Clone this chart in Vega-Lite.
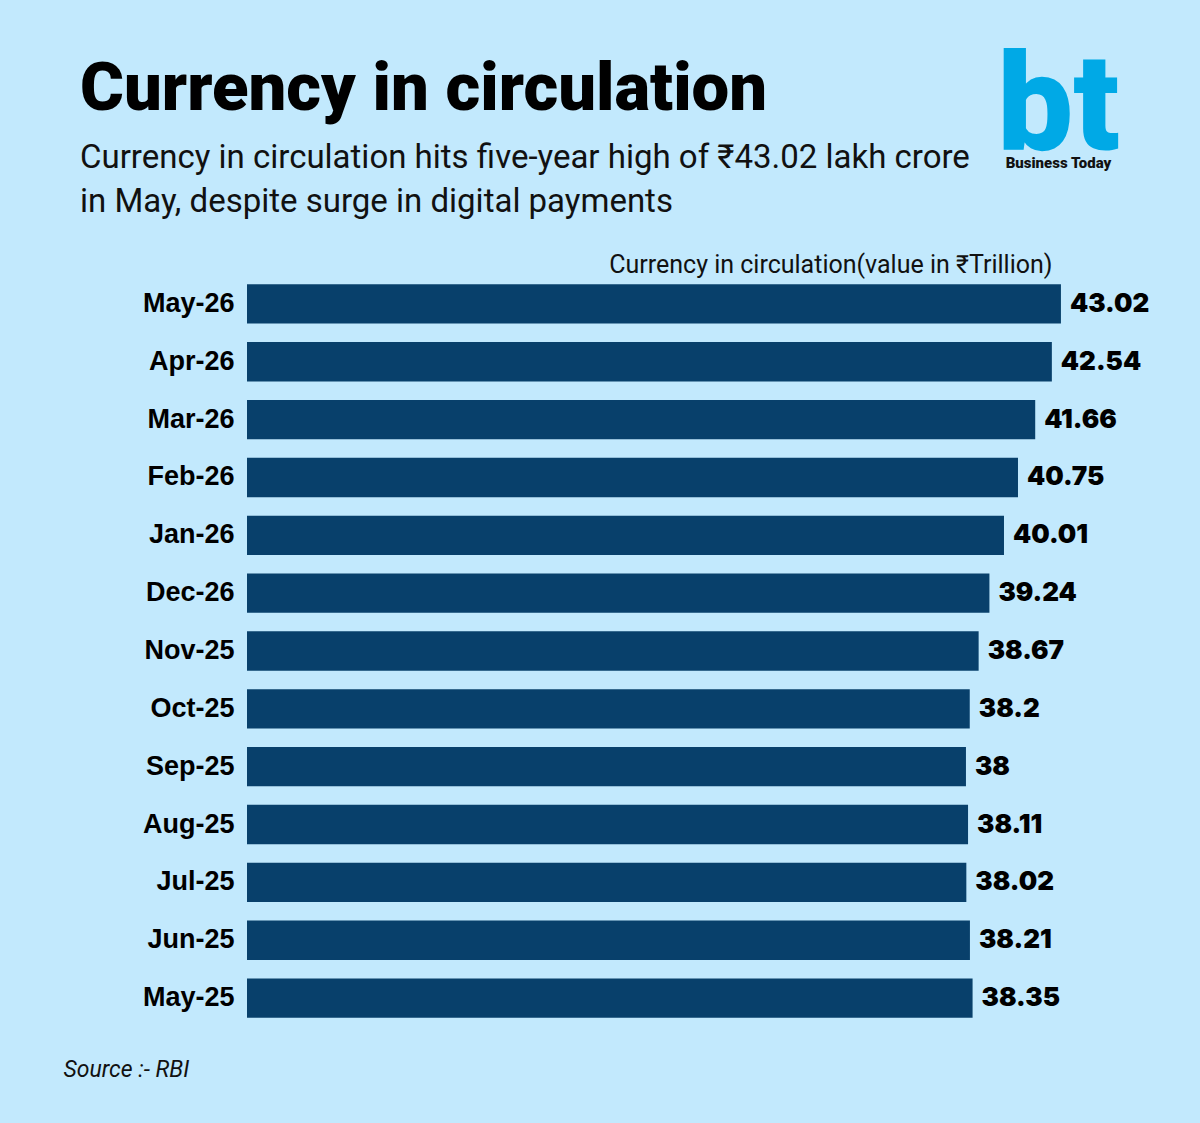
{
  "$schema": "https://vega.github.io/schema/vega-lite/v6.json",
  "width": 946,
  "height": 752,
  "autosize": {"type": "none"},
  "padding": {"left": 247, "top": 275, "right": 7, "bottom": 96},
  "background": "#c2e9fd",
  "title": {
    "text": "Currency in circulation",
    "subtitle": ["Currency in circulation hits five-year high of ₹43.02 lakh crore", "in May, despite surge in digital payments"],
    "anchor": "start",
    "frame": "group",
    "dx": -167,
    "offset": -180,
    "font": "Roboto",
    "fontSize": 67,
    "fontWeight": 900,
    "color": "#000000",
    "subtitleFont": "Roboto",
    "subtitleFontSize": 33,
    "subtitleColor": "#111111",
    "subtitleLineHeight": 44,
    "subtitlePadding": 18
  },
  "data": {
    "values": [
      {"month": "May-26", "value": 43.02},
      {"month": "Apr-26", "value": 42.54},
      {"month": "Mar-26", "value": 41.66},
      {"month": "Feb-26", "value": 40.75},
      {"month": "Jan-26", "value": 40.01},
      {"month": "Dec-26", "value": 39.24},
      {"month": "Nov-25", "value": 38.67},
      {"month": "Oct-25", "value": 38.2},
      {"month": "Sep-25", "value": 38},
      {"month": "Aug-25", "value": 38.11},
      {"month": "Jul-25", "value": 38.02},
      {"month": "Jun-25", "value": 38.21},
      {"month": "May-25", "value": 38.35}
    ]
  },
  "layer": [
    {
      "mark": {"type": "bar", "color": "#08406b"},
      "encoding": {
        "y": {
          "field": "month",
          "type": "nominal",
          "sort": null,
          "scale": {"paddingInner": 0.32, "paddingOuter": 0.16},
          "axis": {
            "orient": "left",
            "ticks": false,
            "domain": false,
            "labelFont": "Liberation Sans",
            "labelFontWeight": "bold",
            "labelFontSize": 27,
            "labelColor": "#000000",
            "labelPadding": 13,
            "title": "Business Today",
            "titleAngle": 0,
            "titleX": 811,
            "titleY": -108,
            "titleAlign": "center",
            "titleBaseline": "alphabetic",
            "titleFont": "Roboto",
            "titleFontSize": 15,
            "titleFontWeight": 900,
            "titleColor": "#111111"
          }
        },
        "x": {
          "field": "value",
          "type": "quantitative",
          "scale": {"domain": [0, 50]},
          "axis": {
            "orient": "top",
            "labels": false,
            "ticks": false,
            "domain": false,
            "grid": false,
            "title": "Currency in circulation(value in ₹Trillion)",
            "titleX": 805,
            "titleY": -3,
            "titleAlign": "right",
            "titleBaseline": "alphabetic",
            "titleFont": "Roboto",
            "titleFontSize": 25,
            "titleFontWeight": "normal",
            "titleColor": "#111111"
          }
        }
      }
    },
    {
      "mark": {
        "type": "text",
        "align": "left",
        "baseline": "middle",
        "dx": 9,
        "font": "Inter",
        "fontSize": 26,
        "fontWeight": 900,
        "color": "#000000"
      },
      "encoding": {
        "y": {
          "field": "month",
          "type": "nominal",
          "sort": null,
          "axis": {
            "orient": "right",
            "labels": false,
            "ticks": false,
            "domain": false,
            "title": "bt",
            "titleAngle": 0,
            "titleX": -135,
            "titleY": -127,
            "titleAlign": "center",
            "titleBaseline": "alphabetic",
            "titleFont": "Roboto",
            "titleFontSize": 135,
            "titleFontWeight": 900,
            "titleColor": "#00a9e6"
          }
        },
        "x": {
          "field": "value",
          "type": "quantitative",
          "axis": {
            "orient": "bottom",
            "labels": false,
            "ticks": false,
            "domain": false,
            "grid": false,
            "title": "Source :- RBI",
            "titleX": -184,
            "titleY": 49,
            "titleAlign": "left",
            "titleBaseline": "alphabetic",
            "titleFont": "Roboto",
            "titleFontSize": 23,
            "titleFontStyle": "italic",
            "titleFontWeight": "normal",
            "titleColor": "#111111"
          }
        },
        "text": {"field": "value", "type": "nominal"}
      }
    }
  ],
  "resolve": {"axis": {"x": "independent", "y": "independent"}},
  "config": {"view": {"stroke": null}}
}
